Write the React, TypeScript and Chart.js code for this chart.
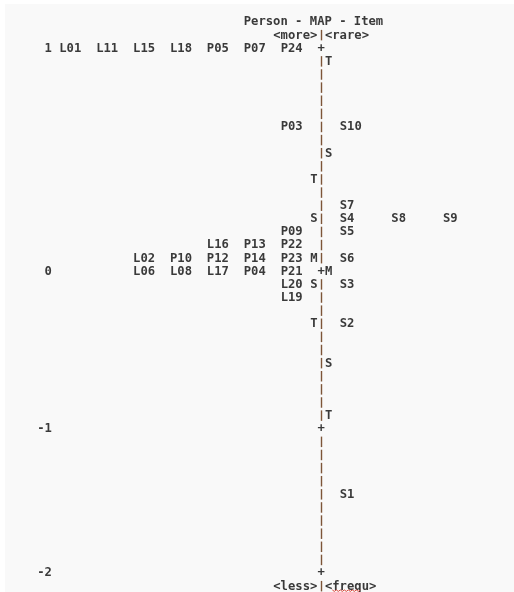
import React, { useEffect, useRef } from "react";
import { Chart, registerables } from "chart.js";

Chart.register(...registerables);

// ---- Data (rows = text lines of the Winsteps-style map, 0 = top logit line) ----
const scaleTickRows = [0, 17, 29, 40];
const scaleTickLabels = ["1", "0", "-1", "-2"];

const personRows = [0, 6, 14, 15, 16, 17, 18, 19];
const personGroups = [
  ["L01", "L11", "L15", "L18", "P05", "P07", "P24"],
  ["P03"],
  ["P09"],
  ["L16", "P13", "P22"],
  ["L02", "P10", "P12", "P14", "P23"],
  ["L06", "L08", "L17", "P04", "P21"],
  ["L20"],
  ["L19"],
];

const itemRows = [6, 12, 13, 14, 16, 18, 21, 34];
const itemGroups = [
  ["S10"],
  ["S7"],
  ["S4", "S8", "S9"],
  ["S5"],
  ["S6"],
  ["S3"],
  ["S2"],
  ["S1"],
];

const personMarkRows = [10, 13, 16, 18, 21];
const personMarkLabels = ["T", "S", "M", "S", "T"];
const itemMarkRows = [1, 8, 17, 24, 28];
const itemMarkLabels = ["T", "S", "M", "S", "T"];

const titleText = "Person - MAP - Item";
const topLeftText = "<more>";
const topRightText = "<rare>";
const bottomLeftText = "<less>";
const bottomRightText = "<frequ>";

// ---- Layout (character columns) ----
const AXIS_COL = 37;
const PERSON_LAST_COL = 32;
const PERSON_STEP = 5;
const ITEM_FIRST_COL = 40;
const ITEM_STEP = 7;
const TICK_END_COL = 1;
const TITLE_COL = 27;
const SIDE_LEFT_COL = 31;

const TEXT_COLOR = "#3a3a3a";
const AXIS_COLOR = "#7d5538";
const FONT = "bold 12.2px 'DejaVu Sans Mono', 'Liberation Mono', monospace";
const BAR = "\u007c";

type Lbl = { x: number; y: number; label: string; align?: CanvasTextAlign; color?: string };

function buildPersons(): Lbl[] {
  const out: Lbl[] = [];
  personRows.forEach((r, i) => {
    const g = personGroups[i];
    g.forEach((name, j) => {
      out.push({ x: PERSON_LAST_COL - (g.length - 1 - j) * PERSON_STEP, y: r, label: name });
    });
  });
  return out;
}
function buildItems(): Lbl[] {
  const out: Lbl[] = [];
  itemRows.forEach((r, i) => {
    itemGroups[i].forEach((name, j) => {
      out.push({ x: ITEM_FIRST_COL + j * ITEM_STEP, y: r, label: name });
    });
  });
  return out;
}
function buildMarks(): Lbl[] {
  const out: Lbl[] = [];
  personMarkRows.forEach((r, i) => out.push({ x: AXIS_COL - 1, y: r, label: personMarkLabels[i] }));
  itemMarkRows.forEach((r, i) => out.push({ x: AXIS_COL + 1, y: r, label: itemMarkLabels[i] }));
  return out;
}
function buildAxis(): Lbl[] {
  const out: Lbl[] = [];
  const first = scaleTickRows[0];
  const last = scaleTickRows[scaleTickRows.length - 1];
  for (let r = first; r <= last; r++) {
    const isTick = scaleTickRows.includes(r);
    out.push({ x: AXIS_COL, y: r, label: isTick ? "+" : BAR });
  }
  out.push({ x: AXIS_COL, y: first - 1, label: BAR });
  out.push({ x: AXIS_COL, y: last + 1, label: BAR });
  return out;
}
function buildTicks(): Lbl[] {
  return scaleTickRows.map((r, i) => ({ x: TICK_END_COL, y: r, label: scaleTickLabels[i], align: "right" as CanvasTextAlign }));
}
function buildHeader(): Lbl[] {
  const first = scaleTickRows[0];
  const last = scaleTickRows[scaleTickRows.length - 1];
  return [
    { x: TITLE_COL, y: first - 2, label: titleText },
    { x: SIDE_LEFT_COL, y: first - 1, label: topLeftText },
    { x: AXIS_COL + 1, y: first - 1, label: topRightText },
    { x: SIDE_LEFT_COL, y: last + 1, label: bottomLeftText },
    { x: AXIS_COL + 1, y: last + 1, label: bottomRightText },
  ];
}

const Y_NUDGE = 1.5;

const textPlugin = {
  id: "textLabels",
  beforeDraw(chart: any) {
    const { ctx, width, height } = chart;
    ctx.save();
    ctx.fillStyle = "#ffffff";
    ctx.fillRect(0, 0, width, height);
    ctx.fillStyle = "#f9f9f9";
    ctx.fillRect(5, 4, width - 5, height - 4);
    ctx.restore();
  },
  afterDatasetsDraw(chart: any) {
    const { ctx } = chart;
    const xs = chart.scales.x;
    const ys = chart.scales.y;
    const colW = xs.getPixelForValue(1) - xs.getPixelForValue(0);
    ctx.save();
    ctx.font = FONT;
    ctx.textBaseline = "middle";
    chart.data.datasets.forEach((ds: any) => {
      ds.data.forEach((p: Lbl) => {
        const px = xs.getPixelForValue(p.x);
        const py = ys.getPixelForValue(p.y) + Y_NUDGE;
        if (p.label === BAR) {
          // "|" glyph as a short stroke, leaving a gap between lines
          const cx = Math.round(px + colW / 2) + 0.5;
          ctx.strokeStyle = AXIS_COLOR;
          ctx.lineWidth = 1.4;
          ctx.beginPath();
          ctx.moveTo(cx, py - 5.5);
          ctx.lineTo(cx, py + 5);
          ctx.stroke();
          return;
        }
        ctx.fillStyle = p.color || TEXT_COLOR;
        ctx.textAlign = p.align || "left";
        ctx.fillText(p.label, px, py);
      });
    });
    // spell-check squiggle under "frequ"
    const last = scaleTickRows[scaleTickRows.length - 1] + 1;
    const x0 = xs.getPixelForValue(AXIS_COL + 2);
    const x1 = xs.getPixelForValue(AXIS_COL + 6);
    const yy = ys.getPixelForValue(last) + Y_NUDGE + 3.5;
    ctx.strokeStyle = "#d9473c";
    ctx.lineWidth = 1;
    ctx.beginPath();
    for (let x = x0, k = 0; x <= x1; x += 2, k++) {
      const y = yy + (k % 2 === 0 ? 0 : 1.5);
      if (k === 0) ctx.moveTo(x, y);
      else ctx.lineTo(x, y);
    }
    ctx.stroke();
    ctx.restore();
  },
};

export default function App() {
  const ref = useRef<HTMLCanvasElement | null>(null);
  useEffect(() => {
    if (!ref.current) return;
    const W = 514;
    const H = 592;
    const colW = 7.38;
    const col0 = 44.5;
    const rowH = 13.12;
    const row0 = 47;
    const chart = new Chart(ref.current, {
      type: "scatter",
      data: {
        datasets: [
          { label: "axis", data: buildAxis() as any, pointRadius: 0 },
          { label: "ticks", data: buildTicks() as any, pointRadius: 0 },
          { label: "persons", data: buildPersons() as any, pointRadius: 0 },
          { label: "items", data: buildItems() as any, pointRadius: 0 },
          { label: "marks", data: buildMarks() as any, pointRadius: 0 },
          { label: "header", data: buildHeader() as any, pointRadius: 0 },
        ],
      },
      options: {
        animation: false,
        responsive: false,
        maintainAspectRatio: false,
        layout: { padding: 0 },
        plugins: { legend: { display: false }, tooltip: { enabled: false } },
        scales: {
          x: { type: "linear", display: false, min: -col0 / colW, max: (W - col0) / colW },
          y: { type: "linear", display: false, reverse: true, min: -row0 / rowH, max: (H - row0) / rowH },
        },
      },
      plugins: [textPlugin],
    });
    return () => chart.destroy();
  }, []);
  return (
    <div style={{ position: "fixed", left: 0, top: 0, width: 514, height: 592 }}>
      <canvas ref={ref} width={514} height={592} style={{ width: 514, height: 592 }} />
    </div>
  );
}
